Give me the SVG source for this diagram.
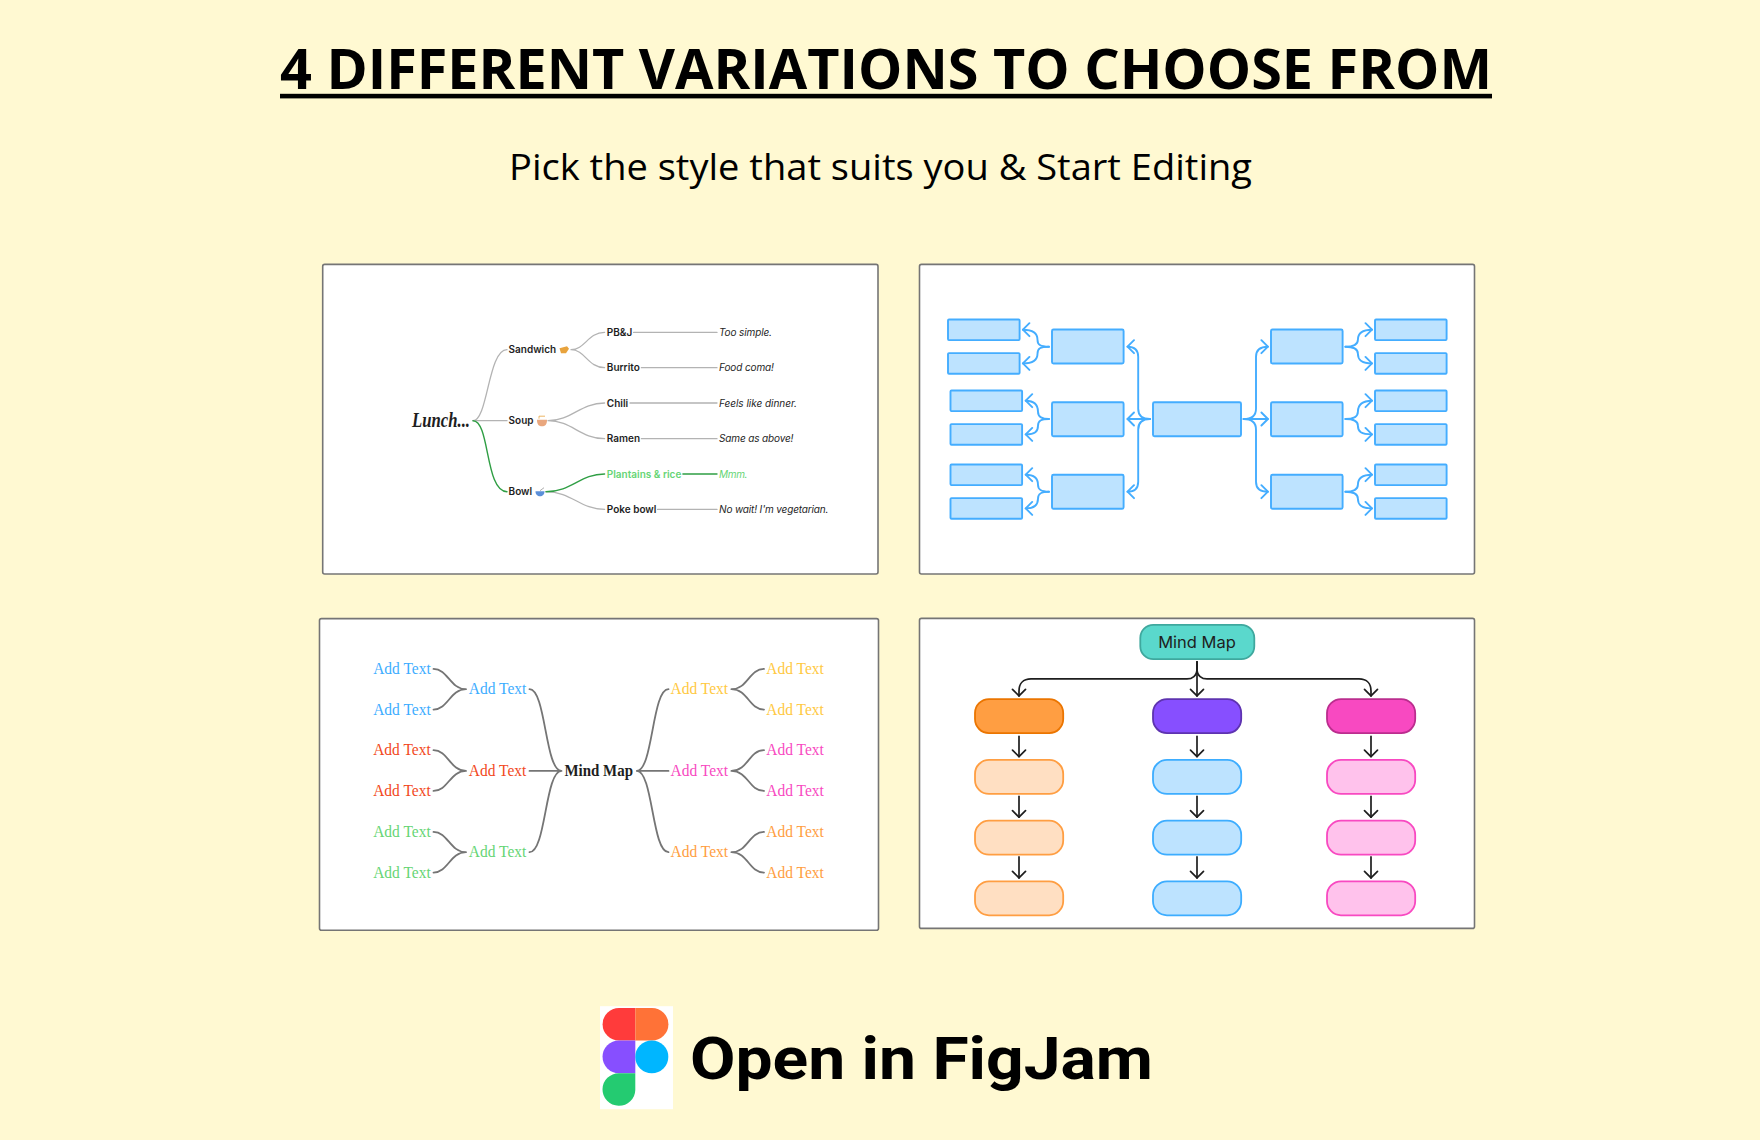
<svg xmlns="http://www.w3.org/2000/svg" width="1760" height="1140" viewBox="0 0 1760 1140">
<defs>
<marker id="ab" markerUnits="userSpaceOnUse" markerWidth="14" markerHeight="16" refX="8" refY="8" orient="auto"><path d="M1.5,1.5 L8,8 L1.5,14.5" fill="none" stroke="#44ADFF" stroke-width="1.9" stroke-linecap="round" stroke-linejoin="round"/></marker>
<marker id="ak" markerUnits="userSpaceOnUse" markerWidth="14" markerHeight="16" refX="8" refY="8" orient="auto"><path d="M1.5,1.5 L8,8 L1.5,14.5" fill="none" stroke="#1e1e1e" stroke-width="1.7" stroke-linecap="round" stroke-linejoin="round"/></marker>
</defs>
<style>
.panel{fill:#fff;stroke:#757575;stroke-width:1.6}
.c{fill:none;stroke-linecap:round}
.g1{stroke:#b3b3b3;stroke-width:1.3}
.g1g{stroke:#2f9e44;stroke-width:1.4}
.t1{font:600 10px Inter,"Liberation Sans",sans-serif;fill:#1e1e1e}
.i1{font:italic 400 10px Inter,"Liberation Sans",sans-serif;fill:#1e1e1e}
.b{fill:#BDE3FF;stroke:#44ADFF;stroke-width:1.9}
.bl{stroke:#44ADFF;stroke-width:1.9}
.s{font:16px "Liberation Serif",serif}
.k{stroke:#1e1e1e;stroke-width:1.7}
.gr{stroke:#757575;stroke-width:1.8}
.or{fill:#FFDFC2;stroke:#FF9E42;stroke-width:1.8}
.lb{fill:#BDE3FF;stroke:#3DADFF;stroke-width:1.8}
.pk{fill:#FFC2EC;stroke:#F849C1;stroke-width:1.8}
</style>
<rect width="1760" height="1140" fill="#FFF9D2"/>
<g id="header">
<text x="280" y="89.3" textLength="1212" lengthAdjust="spacingAndGlyphs" font-family="'Open Sans',sans-serif" font-weight="700" font-size="56" fill="#000">4 DIFFERENT VARIATIONS TO CHOOSE FROM</text>
<rect x="280" y="93.8" width="1212" height="4.6" fill="#000"/>
<text x="509" y="180" textLength="743" lengthAdjust="spacingAndGlyphs" font-family="'Open Sans',sans-serif" font-size="37" fill="#000">Pick the style that suits you &amp; Start Editing</text>
</g>
<g id="panel-lunch" transform="translate(0,0.7)">
<rect class="panel" x="322.7" y="263.7" width="555.3" height="309.6" rx="2"/>
<g id="lunch-connectors">
<path class="c g1" d="M473,420 C488,420 488,349 507,349"/>
<path class="c g1" d="M475,420 H507"/>
<path class="c g1" d="M571,349 C585,349 588,331.7 604.6,331.7 M571,349 C585,349 588,367 604.6,367"/>
<path class="c g1" d="M548,420 C572,420 580,402.3 604.6,402.3 M548,420 C572,420 580,438 604.6,438"/>
<path class="c g1" d="M546,491 C572,491 580,508.7 604.6,508.7"/>
<path class="c g1" d="M633.6,331.7 H717 M641.4,367 H717 M630,402.3 H717 M641.4,438 H717 M657.5,508.7 H717"/>
<path class="c g1g" d="M473,420 C490,420 485,491 507,491"/>
<path class="c g1g" d="M546,491 C572,491 580,473.3 604.6,473.3 M682.9,473.3 H717"/>
</g>
<g id="lunch-root"><text x="412" y="426" textLength="58" lengthAdjust="spacingAndGlyphs" font-family="'Liberation Serif',serif" font-style="italic" font-weight="700" font-size="20" fill="#1e1e1e">Lunch...</text></g>
<g id="sandwich"><text class="t1" x="508.6" y="352.8">Sandwich</text><path d="M559.5,347.5 L567,345.5 L569,348 L566,352.5 L561,352.5 Z" fill="#E8A33D"/></g>
<g id="soup"><text class="t1" x="508.6" y="423.6">Soup</text><path d="M537,419 H547 C547,424 545,425.5 542,425.5 C539,425.5 537,424 537,419 Z" fill="#E9A77E"/><path d="M539,418 V415.5 H545" fill="none" stroke="#E8A33D" stroke-width="0.8"/></g>
<g id="bowl"><text class="t1" x="508.6" y="494.6">Bowl</text><path d="M535.5,490.5 H544.5 C544.5,494 542.5,495.5 540,495.5 C537.5,495.5 535.5,494 535.5,490.5 Z" fill="#5B8FD9"/><path d="M540,490 L544,487" fill="none" stroke="#8a8a8a" stroke-width="0.7"/></g>
<g id="pbj"><text class="t1" x="606.8" y="335.3">PB&amp;J</text></g>
<g id="burrito"><text class="t1" x="606.8" y="370.6">Burrito</text></g>
<g id="chili"><text class="t1" x="606.8" y="405.9">Chili</text></g>
<g id="ramen"><text class="t1" x="606.8" y="441.6">Ramen</text></g>
<g id="plantains"><text class="t1" x="606.8" y="476.9" style="fill:#66D575">Plantains &amp; rice</text></g>
<g id="poke"><text class="t1" x="606.8" y="512.3">Poke bowl</text></g>
<g id="note1"><text class="i1" x="719" y="335.3" textLength="53">Too simple.</text></g>
<g id="note2"><text class="i1" x="719" y="370.6" textLength="55">Food coma!</text></g>
<g id="note3"><text class="i1" x="719" y="405.9" textLength="78">Feels like dinner.</text></g>
<g id="note4"><text class="i1" x="719" y="441.6" textLength="74.5">Same as above!</text></g>
<g id="note5"><text class="i1" x="719" y="476.9" textLength="28.5" style="fill:#66D575">Mmm.</text></g>
<g id="note6"><text class="i1" x="719" y="512.3" textLength="109.5">No wait! I'm vegetarian.</text></g>
</g>
<g id="panel-blocks" transform="translate(0,0.7)">
<rect class="panel" x="919.5" y="263.7" width="555" height="309.6" rx="2"/>
<g id="blocks-connectors">
<path class="c bl" marker-end="url(#ab)" d="M1150,418.3 H1127.5"/>
<path class="c bl" marker-end="url(#ab)" d="M1150,418.3 C1142,418.3 1138.2,415 1138.2,408 V356 C1138.2,349 1135,346 1127.5,346"/>
<path class="c bl" marker-end="url(#ab)" d="M1150,418.3 C1142,418.3 1138.2,422 1138.2,429 V481 C1138.2,488 1135,491 1127.5,491"/>
<path class="c bl" marker-end="url(#ab)" d="M1243.6,418.3 H1267.9"/>
<path class="c bl" marker-end="url(#ab)" d="M1243.6,418.3 C1252,418.3 1256,415 1256,408 V356 C1256,349 1260,346 1267.9,346"/>
<path class="c bl" marker-end="url(#ab)" d="M1243.6,418.3 C1252,418.3 1256,422 1256,429 V481 C1256,488 1260,491 1267.9,491"/>
<path class="c bl" marker-end="url(#ab)" d="M1049,346 C1040,346 1037.5,344 1037.5,339 C1037.5,333 1034,329 1022.9,329"/>
<path class="c bl" marker-end="url(#ab)" d="M1049,346 C1040,346 1037.5,348 1037.5,353 C1037.5,359 1034,362.7 1022.9,362.7"/>
<path class="c bl" marker-end="url(#ab)" d="M1049,418.3 C1041,418.3 1038,416 1038,411 C1038,405 1035,400 1025.7,400"/>
<path class="c bl" marker-end="url(#ab)" d="M1049,418.3 C1041,418.3 1038,420 1038,425 C1038,431 1035,433.7 1025.7,433.7"/>
<path class="c bl" marker-end="url(#ab)" d="M1049,491 C1041,491 1038,489 1038,484 C1038,478 1035,474 1025.7,474"/>
<path class="c bl" marker-end="url(#ab)" d="M1049,491 C1041,491 1038,493 1038,498 C1038,504 1035,507.7 1025.7,507.7"/>
<path class="c bl" marker-end="url(#ab)" d="M1345.4,346 C1354,346 1357.9,344 1357.9,339 C1357.9,333 1361,329 1372,329"/>
<path class="c bl" marker-end="url(#ab)" d="M1345.4,346 C1354,346 1357.9,348 1357.9,353 C1357.9,359 1361,362.7 1372,362.7"/>
<path class="c bl" marker-end="url(#ab)" d="M1345.4,418.3 C1354,418.3 1357.9,416 1357.9,411 C1357.9,405 1361,400 1372,400"/>
<path class="c bl" marker-end="url(#ab)" d="M1345.4,418.3 C1354,418.3 1357.9,420 1357.9,425 C1357.9,431 1361,433.7 1372,433.7"/>
<path class="c bl" marker-end="url(#ab)" d="M1345.4,491 C1354,491 1357.9,489 1357.9,484 C1357.9,478 1361,474 1372,474"/>
<path class="c bl" marker-end="url(#ab)" d="M1345.4,491 C1354,491 1357.9,493 1357.9,498 C1357.9,504 1361,507.7 1372,507.7"/>
</g>
<g id="block-center"><rect class="b" x="1153" y="401.5" width="88" height="34" rx="1.5"/></g>
<g id="block-l1"><rect class="b" x="1052" y="328.8" width="71.6" height="34" rx="1.5"/></g>
<g id="block-l2"><rect class="b" x="1052" y="401.5" width="71.6" height="34" rx="1.5"/></g>
<g id="block-l3"><rect class="b" x="1052" y="474" width="71.6" height="34" rx="1.5"/></g>
<g id="block-r1"><rect class="b" x="1271" y="328.8" width="71.6" height="34" rx="1.5"/></g>
<g id="block-r2"><rect class="b" x="1271" y="401.5" width="71.6" height="34" rx="1.5"/></g>
<g id="block-r3"><rect class="b" x="1271" y="474" width="71.6" height="34" rx="1.5"/></g>
<g id="block-fl1"><rect class="b" x="948" y="318.8" width="71.6" height="20.6" rx="1"/></g>
<g id="block-fl2"><rect class="b" x="948" y="352.4" width="71.6" height="20.6" rx="1"/></g>
<g id="block-fl3"><rect class="b" x="950.5" y="389.8" width="71.6" height="20.6" rx="1"/></g>
<g id="block-fl4"><rect class="b" x="950.5" y="423.4" width="71.6" height="20.6" rx="1"/></g>
<g id="block-fl5"><rect class="b" x="950.5" y="463.8" width="71.6" height="20.6" rx="1"/></g>
<g id="block-fl6"><rect class="b" x="950.5" y="497.4" width="71.6" height="20.6" rx="1"/></g>
<g id="block-fr1"><rect class="b" x="1375" y="318.8" width="71.6" height="20.6" rx="1"/></g>
<g id="block-fr2"><rect class="b" x="1375" y="352.4" width="71.6" height="20.6" rx="1"/></g>
<g id="block-fr3"><rect class="b" x="1375" y="389.8" width="71.6" height="20.6" rx="1"/></g>
<g id="block-fr4"><rect class="b" x="1375" y="423.4" width="71.6" height="20.6" rx="1"/></g>
<g id="block-fr5"><rect class="b" x="1375" y="463.8" width="71.6" height="20.6" rx="1"/></g>
<g id="block-fr6"><rect class="b" x="1375" y="497.4" width="71.6" height="20.6" rx="1"/></g>
</g>
<g id="panel-tree" transform="translate(0,0.9)">
<rect class="panel" x="319.5" y="617.7" width="559" height="311.6" rx="2"/>
<g id="tree-connectors">
<path class="c gr" d="M561.5,770 C545,770 546,688.3 529.5,688.3 M561.5,770 H529.5 M561.5,770 C545,770 546,851.3 529.5,851.3"/>
<path class="c gr" d="M636.8,770 C653,770 652,688.3 668.5,688.3 M636.8,770 H668.5 M636.8,770 C653,770 652,851.3 668.5,851.3"/>
<path class="c gr" d="M466,688.3 C450,688.3 448,668 433.5,668 M466,688.3 C450,688.3 448,708.7 433.5,708.7"/>
<path class="c gr" d="M466,770 C450,770 448,749.3 433.5,749.3 M466,770 C450,770 448,790 433.5,790"/>
<path class="c gr" d="M466,851.3 C450,851.3 448,831 433.5,831 M466,851.3 C450,851.3 448,871.7 433.5,871.7"/>
<path class="c gr" d="M731.4,688.3 C748,688.3 749,668 764,668 M731.4,688.3 C748,688.3 749,708.7 764,708.7"/>
<path class="c gr" d="M731.4,770 C748,770 749,749.3 764,749.3 M731.4,770 C748,770 749,790 764,790"/>
<path class="c gr" d="M731.4,851.3 C748,851.3 749,831 764,831 M731.4,851.3 C748,851.3 749,871.7 764,871.7"/>
</g>
<g id="tree-root"><text x="564.5" y="775" textLength="68.5" lengthAdjust="spacingAndGlyphs" font-family="'Liberation Serif',serif" font-weight="700" font-size="16" fill="#1e1e1e">Mind Map</text></g>
<g id="t-l1"><text class="s" x="468.8" y="693.3" textLength="57.5" lengthAdjust="spacingAndGlyphs" fill="#3DADFF">Add Text</text></g>
<g id="t-l2"><text class="s" x="468.8" y="775" textLength="57.5" lengthAdjust="spacingAndGlyphs" fill="#F24822">Add Text</text></g>
<g id="t-l3"><text class="s" x="468.8" y="856.3" textLength="57.5" lengthAdjust="spacingAndGlyphs" fill="#66D575">Add Text</text></g>
<g id="t-r1"><text class="s" x="670.6" y="693.3" textLength="57.5" lengthAdjust="spacingAndGlyphs" fill="#FFC943">Add Text</text></g>
<g id="t-r2"><text class="s" x="670.6" y="775" textLength="57.5" lengthAdjust="spacingAndGlyphs" fill="#F849C1">Add Text</text></g>
<g id="t-r3"><text class="s" x="670.6" y="856.3" textLength="57.5" lengthAdjust="spacingAndGlyphs" fill="#FF9E42">Add Text</text></g>
<g id="t-fl1"><text class="s" x="373.2" y="673" textLength="57.5" lengthAdjust="spacingAndGlyphs" fill="#3DADFF">Add Text</text></g>
<g id="t-fl2"><text class="s" x="373.2" y="713.7" textLength="57.5" lengthAdjust="spacingAndGlyphs" fill="#3DADFF">Add Text</text></g>
<g id="t-fl3"><text class="s" x="373.2" y="754.3" textLength="57.5" lengthAdjust="spacingAndGlyphs" fill="#F24822">Add Text</text></g>
<g id="t-fl4"><text class="s" x="373.2" y="795" textLength="57.5" lengthAdjust="spacingAndGlyphs" fill="#F24822">Add Text</text></g>
<g id="t-fl5"><text class="s" x="373.2" y="836" textLength="57.5" lengthAdjust="spacingAndGlyphs" fill="#66D575">Add Text</text></g>
<g id="t-fl6"><text class="s" x="373.2" y="876.7" textLength="57.5" lengthAdjust="spacingAndGlyphs" fill="#66D575">Add Text</text></g>
<g id="t-fr1"><text class="s" x="766.3" y="673" textLength="57.5" lengthAdjust="spacingAndGlyphs" fill="#FFC943">Add Text</text></g>
<g id="t-fr2"><text class="s" x="766.3" y="713.7" textLength="57.5" lengthAdjust="spacingAndGlyphs" fill="#FFC943">Add Text</text></g>
<g id="t-fr3"><text class="s" x="766.3" y="754.3" textLength="57.5" lengthAdjust="spacingAndGlyphs" fill="#F849C1">Add Text</text></g>
<g id="t-fr4"><text class="s" x="766.3" y="795" textLength="57.5" lengthAdjust="spacingAndGlyphs" fill="#F849C1">Add Text</text></g>
<g id="t-fr5"><text class="s" x="766.3" y="836" textLength="57.5" lengthAdjust="spacingAndGlyphs" fill="#FF9E42">Add Text</text></g>
<g id="t-fr6"><text class="s" x="766.3" y="876.7" textLength="57.5" lengthAdjust="spacingAndGlyphs" fill="#FF9E42">Add Text</text></g>
</g>
<g id="panel-columns" transform="translate(0,0.9)">
<rect class="panel" x="919.5" y="617.5" width="555" height="310" rx="2"/>
<g id="columns-connectors">
<path class="c k" marker-end="url(#ak)" d="M1197,661 V695"/>
<path class="c k" marker-end="url(#ak)" d="M1197,661 V668 C1197,675 1192,678 1187,678 H1031 C1023,678 1019,683 1019,690 V695"/>
<path class="c k" marker-end="url(#ak)" d="M1197,661 V668 C1197,675 1202,678 1207,678 H1359 C1367,678 1371,683 1371,690 V695"/>
<path class="c k" marker-end="url(#ak)" d="M1019,735.5 V755.7"/>
<path class="c k" marker-end="url(#ak)" d="M1019,795.5 V816.3"/>
<path class="c k" marker-end="url(#ak)" d="M1019,856 V877"/>
<path class="c k" marker-end="url(#ak)" d="M1197,735.5 V755.7"/>
<path class="c k" marker-end="url(#ak)" d="M1197,795.5 V816.3"/>
<path class="c k" marker-end="url(#ak)" d="M1197,856 V877"/>
<path class="c k" marker-end="url(#ak)" d="M1371,735.5 V755.7"/>
<path class="c k" marker-end="url(#ak)" d="M1371,795.5 V816.3"/>
<path class="c k" marker-end="url(#ak)" d="M1371,856 V877"/>
</g>
<g id="col-root"><rect x="1140.3" y="624" width="114" height="34.3" rx="13" fill="#5AD8CC" stroke="#3FA89E" stroke-width="1.8"/><text x="1197" y="646.8" text-anchor="middle" font-family="Inter,sans-serif" font-size="16.5" fill="#1e1e1e">Mind Map</text></g>
<g id="col-a0"><rect x="975" y="698.2" width="88.2" height="34" rx="14" fill="#FF9E42" stroke="#EB7500" stroke-width="1.8"/></g>
<g id="col-b0"><rect x="1153" y="698.2" width="88.2" height="34" rx="14" fill="#874FFF" stroke="#5E33B0" stroke-width="1.8"/></g>
<g id="col-c0"><rect x="1327" y="698.2" width="88.2" height="34" rx="14" fill="#F849C1" stroke="#BB2D8E" stroke-width="1.8"/></g>
<g id="col-a1"><rect class="or" x="975" y="759" width="88.2" height="34" rx="14"/></g>
<g id="col-a2"><rect class="or" x="975" y="819.8" width="88.2" height="34" rx="14"/></g>
<g id="col-a3"><rect class="or" x="975" y="880.4" width="88.2" height="34" rx="14"/></g>
<g id="col-b1"><rect class="lb" x="1153" y="759" width="88.2" height="34" rx="14"/></g>
<g id="col-b2"><rect class="lb" x="1153" y="819.8" width="88.2" height="34" rx="14"/></g>
<g id="col-b3"><rect class="lb" x="1153" y="880.4" width="88.2" height="34" rx="14"/></g>
<g id="col-c1"><rect class="pk" x="1327" y="759" width="88.2" height="34" rx="14"/></g>
<g id="col-c2"><rect class="pk" x="1327" y="819.8" width="88.2" height="34" rx="14"/></g>
<g id="col-c3"><rect class="pk" x="1327" y="880.4" width="88.2" height="34" rx="14"/></g>
</g>
<g id="footer" transform="translate(0,1.2)">
<rect x="600" y="1005" width="73" height="103" fill="#fff"/>
<path d="M635.3,1006.7 V1039.3 H619 A16.4,16.3 0 0 1 619,1006.7 Z" fill="#FF3B3B"/>
<path d="M635.3,1006.7 V1039.3 H652 A16.4,16.3 0 0 0 652,1006.7 Z" fill="#FF7237"/>
<path d="M635.3,1039.3 V1072 H619 A16.4,16.3 0 0 1 619,1039.3 Z" fill="#874FFF"/>
<ellipse cx="651.8" cy="1055.7" rx="16.5" ry="16.3" fill="#00B6FF"/>
<path d="M635.3,1072 V1088.7 A16.4,16.3 0 1 1 619,1072 Z" fill="#24CB71"/>
<text x="690" y="1078.3" textLength="463" lengthAdjust="spacingAndGlyphs" font-family="Roboto,sans-serif" font-weight="700" font-size="60" fill="#000">Open in FigJam</text>
</g>
</svg>
